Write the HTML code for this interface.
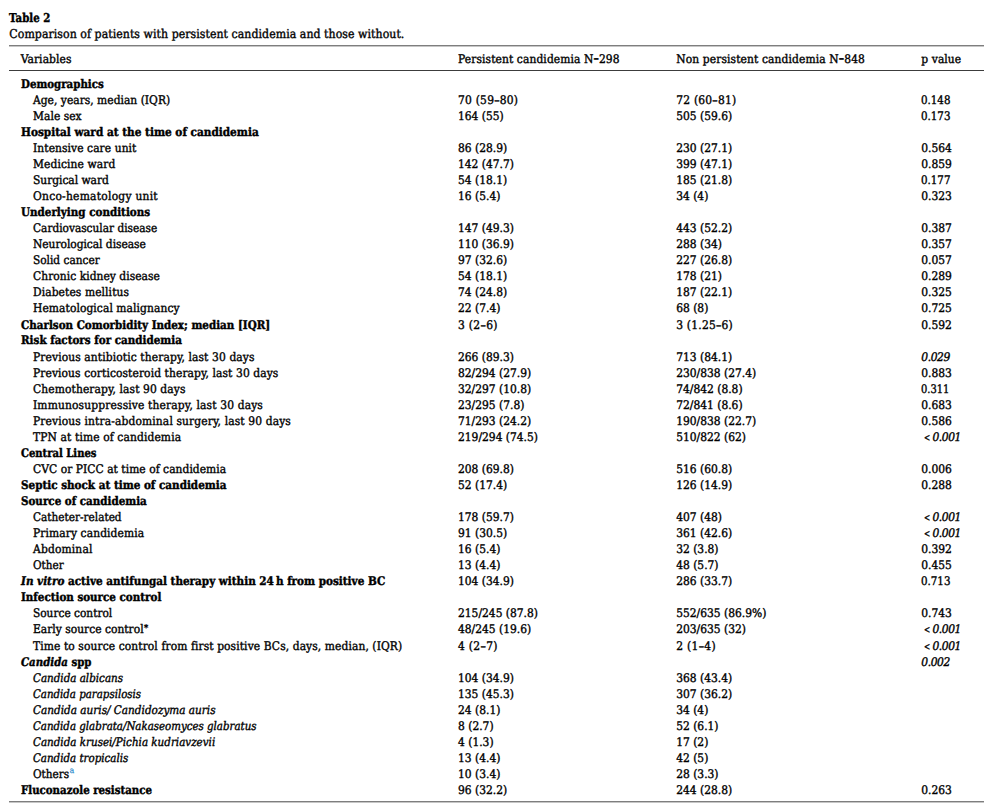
<!DOCTYPE html>
<html lang="en"><head><meta charset="utf-8"><title>Table 2</title>
<style>
html,body{margin:0;padding:0;background:#fff;}
body{width:991px;height:808px;position:relative;overflow:hidden;color:#000;
 font-family:"DejaVu Serif Condensed", "Liberation Serif", serif;font-size:11.9px;line-height:16px;
 -webkit-font-smoothing:auto;text-rendering:geometricPrecision;font-kerning:normal;}
.r{position:absolute;left:0;width:991px;height:16px;white-space:nowrap;}
.r span{position:absolute;top:0;transform-origin:0 0;white-space:nowrap;letter-spacing:0px;-webkit-text-stroke:0.36px #000;}
.r span.n{letter-spacing:0px;}
.b span.l{font-weight:bold;letter-spacing:0px;-webkit-text-stroke:0.4px #000;}
.i span.l{font-style:italic;letter-spacing:0px;}
.l1{left:20.7px}.l2{left:33px}
.c2{left:458px}.c3{left:676.2px}.c4{left:921.3px}
.r span.pi{font-style:italic;font-weight:normal;letter-spacing:-0.4px}
.r span.cap{font-size:12.2px;letter-spacing:0px}
.r span.capb{font-size:12.2px;font-weight:bold;letter-spacing:0px;-webkit-text-stroke:0.4px #000;}
sup{line-height:0;font-size:70%;vertical-align:baseline;position:relative;letter-spacing:0}
sup.fn{color:#2a8ccb;top:-0.56em;-webkit-text-stroke:0.25px #2a8ccb;margin-left:0.6px}
.d{position:relative;top:-1px;font-weight:bold}
sup.st{top:-0.2em;font-size:78%;margin-left:0.4px}
.lt{font-weight:normal;font-style:normal;display:inline-block;transform:scaleX(0.78);transform-origin:0 50%;margin-right:-1.8px;font-size:10.5px;position:relative;top:-0.2px;margin-left:2.9px;padding-right:2.1px;letter-spacing:0}
.rule{position:absolute;left:9px;width:975px;height:1px}
</style></head><body>
<div class="r" style="top:10px"><span class="capb" style="left:9.3px;transform:scaleX(0.9311);">Table 2</span></div>
<div class="r" style="top:26px"><span class="cap" style="left:9.3px;letter-spacing:0.051px;">Comparison of patients with persistent candidemia and those without.</span></div>
<div class="rule" style="top:45px;background:#7e7e7e"></div>
<div class="rule" style="top:46px;background:#c6c6c6"></div>
<div class="r" style="top:51px"><span class="l l1" style="letter-spacing:0.1px;">Variables</span><span class="c2" style="letter-spacing:0.104px;">Persistent candidemia N<b class="d">–</b>298</span><span class="c3" style="letter-spacing:0.118px;">Non persistent candidemia N<b class="d">–</b>848</span><span class="c4" style="letter-spacing:0.099px;">p value</span></div>
<div class="rule" style="top:70px;background:#3c3c3c"></div>
<div class="r b" style="top:76px"><span class="l l1" style="transform:scaleX(0.9567);">Demographics</span></div>
<div class="r" style="top:92px"><span class="l l2" style="letter-spacing:0.023px;">Age, years, median (IQR)</span><span class="n c2" style="letter-spacing:0.23px;">70 (59–80)</span><span class="n c3" style="letter-spacing:0.23px;">72 (60–81)</span><span class="n c4" style="transform:scaleX(0.9624);">0.148</span></div>
<div class="r" style="top:108px"><span class="l l2" style="letter-spacing:0.046px;">Male sex</span><span class="n c2">164 (55)</span><span class="n c3">505 (59.6)</span><span class="n c4" style="transform:scaleX(0.9624);">0.173</span></div>
<div class="r b" style="top:124px"><span class="l l1" style="transform:scaleX(0.9824);">Hospital ward at the time of candidemia</span></div>
<div class="r" style="top:140px"><span class="l l2" style="letter-spacing:0.077px;">Intensive care unit</span><span class="n c2">86 (28.9)</span><span class="n c3">230 (27.1)</span><span class="n c4">0.564</span></div>
<div class="r" style="top:156px"><span class="l l2" style="letter-spacing:0.102px;">Medicine ward</span><span class="n c2">142 (47.7)</span><span class="n c3">399 (47.1)</span><span class="n c4">0.859</span></div>
<div class="r" style="top:172px"><span class="l l2" style="letter-spacing:-0.037px;">Surgical ward</span><span class="n c2">54 (18.1)</span><span class="n c3">185 (21.8)</span><span class="n c4" style="transform:scaleX(0.9624);">0.177</span></div>
<div class="r" style="top:188px"><span class="l l2" style="letter-spacing:0.254px;">Onco-hematology unit</span><span class="n c2">16 (5.4)</span><span class="n c3">34 (4)</span><span class="n c4">0.323</span></div>
<div class="r b" style="top:204px"><span class="l l1" style="transform:scaleX(0.9687);">Underlying conditions</span></div>
<div class="r" style="top:220px"><span class="l l2" style="transform:scaleX(0.9877);">Cardiovascular disease</span><span class="n c2">147 (49.3)</span><span class="n c3">443 (52.2)</span><span class="n c4">0.387</span></div>
<div class="r" style="top:236px"><span class="l l2" style="letter-spacing:-0.046px;">Neurological disease</span><span class="n c2">110 (36.9)</span><span class="n c3">288 (34)</span><span class="n c4">0.357</span></div>
<div class="r" style="top:252px"><span class="l l2" style="transform:scaleX(0.9875);">Solid cancer</span><span class="n c2">97 (32.6)</span><span class="n c3">227 (26.8)</span><span class="n c4">0.057</span></div>
<div class="r" style="top:268px"><span class="l l2" style="letter-spacing:0.04px;">Chronic kidney disease</span><span class="n c2">54 (18.1)</span><span class="n c3">178 (21)</span><span class="n c4">0.289</span></div>
<div class="r" style="top:284px"><span class="l l2" style="letter-spacing:0.096px;">Diabetes mellitus</span><span class="n c2">74 (24.8)</span><span class="n c3">187 (22.1)</span><span class="n c4">0.325</span></div>
<div class="r" style="top:300px"><span class="l l2" style="letter-spacing:0.082px;">Hematological malignancy</span><span class="n c2">22 (7.4)</span><span class="n c3">68 (8)</span><span class="n c4">0.725</span></div>
<div class="r b" style="top:317px"><span class="l l1" style="transform:scaleX(0.9661);">Charlson Comorbidity Index; median [IQR]</span><span class="n c2" style="letter-spacing:0.329px;">3 (2–6)</span><span class="n c3" style="letter-spacing:0.23px;">3 (1.25–6)</span><span class="n c4">0.592</span></div>
<div class="r b" style="top:332px"><span class="l l1" style="transform:scaleX(0.9689);">Risk factors for candidemia</span></div>
<div class="r" style="top:349px"><span class="l l2" style="letter-spacing:0.113px;">Previous antibiotic therapy, last 30 days</span><span class="n c2">266 (89.3)</span><span class="n c3">713 (84.1)</span><span class="n c4 pi">0.029</span></div>
<div class="r" style="top:365px"><span class="l l2" style="letter-spacing:0.094px;">Previous corticosteroid therapy, last 30 days</span><span class="n c2">82/294 (27.9)</span><span class="n c3">230/838 (27.4)</span><span class="n c4">0.883</span></div>
<div class="r" style="top:381px"><span class="l l2" style="letter-spacing:0.103px;">Chemotherapy, last 90 days</span><span class="n c2">32/297 (10.8)</span><span class="n c3">74/842 (8.8)</span><span class="n c4" style="transform:scaleX(0.9249);">0.311</span></div>
<div class="r" style="top:397px"><span class="l l2" style="letter-spacing:0.147px;">Immunosuppressive therapy, last 30 days</span><span class="n c2">23/295 (7.8)</span><span class="n c3">72/841 (8.6)</span><span class="n c4">0.683</span></div>
<div class="r" style="top:413px"><span class="l l2" style="letter-spacing:0.131px;">Previous intra-abdominal surgery, last 90 days</span><span class="n c2">71/293 (24.2)</span><span class="n c3">190/838 (22.7)</span><span class="n c4">0.586</span></div>
<div class="r" style="top:429px"><span class="l l2" style="letter-spacing:0.12px;">TPN at time of candidemia</span><span class="n c2">219/294 (74.5)</span><span class="n c3">510/822 (62)</span><span class="n c4 pi"><b class="lt">&lt;</b>0.001</span></div>
<div class="r b" style="top:445px"><span class="l l1" style="transform:scaleX(0.9357);">Central Lines</span></div>
<div class="r" style="top:461px"><span class="l l2" style="letter-spacing:0.044px;">CVC or PICC at time of candidemia</span><span class="n c2">208 (69.8)</span><span class="n c3">516 (60.8)</span><span class="n c4">0.006</span></div>
<div class="r b" style="top:477px"><span class="l l1" style="transform:scaleX(0.9734);">Septic shock at time of candidemia</span><span class="n c2">52 (17.4)</span><span class="n c3">126 (14.9)</span><span class="n c4">0.288</span></div>
<div class="r b" style="top:493px"><span class="l l1" style="transform:scaleX(0.9666);">Source of candidemia</span></div>
<div class="r" style="top:509px"><span class="l l2" style="transform:scaleX(0.9829);">Catheter-related</span><span class="n c2">178 (59.7)</span><span class="n c3">407 (48)</span><span class="n c4 pi"><b class="lt">&lt;</b>0.001</span></div>
<div class="r" style="top:525px"><span class="l l2" style="letter-spacing:0.097px;">Primary candidemia</span><span class="n c2">91 (30.5)</span><span class="n c3">361 (42.6)</span><span class="n c4 pi"><b class="lt">&lt;</b>0.001</span></div>
<div class="r" style="top:541px"><span class="l l2" style="letter-spacing:0.155px;">Abdominal</span><span class="n c2">16 (5.4)</span><span class="n c3">32 (3.8)</span><span class="n c4">0.392</span></div>
<div class="r" style="top:557px"><span class="l l2" style="transform:scaleX(0.9775);">Other</span><span class="n c2">13 (4.4)</span><span class="n c3">48 (5.7)</span><span class="n c4">0.455</span></div>
<div class="r b" style="top:573px"><span class="l l1" style="transform:scaleX(0.9745);"><i>In vitro</i> active antifungal therapy within 24 h from positive BC</span><span class="n c2">104 (34.9)</span><span class="n c3">286 (33.7)</span><span class="n c4" style="transform:scaleX(0.9624);">0.713</span></div>
<div class="r b" style="top:589px"><span class="l l1" style="transform:scaleX(0.9665);">Infection source control</span></div>
<div class="r" style="top:605px"><span class="l l2" style="transform:scaleX(0.9888);">Source control</span><span class="n c2">215/245 (87.8)</span><span class="n c3">552/635 (86.9%)</span><span class="n c4">0.743</span></div>
<div class="r" style="top:621px"><span class="l l2" style="letter-spacing:0.011px;">Early source control<sup class=st>*</sup></span><span class="n c2">48/245 (19.6)</span><span class="n c3">203/635 (32)</span><span class="n c4 pi"><b class="lt">&lt;</b>0.001</span></div>
<div class="r" style="top:638px"><span class="l l2" style="letter-spacing:0.095px;">Time to source control from first positive BCs, days, median, (IQR)</span><span class="n c2" style="letter-spacing:0.329px;">4 (2–7)</span><span class="n c3" style="letter-spacing:0.329px;">2 (1–4)</span><span class="n c4 pi"><b class="lt">&lt;</b>0.001</span></div>
<div class="r b" style="top:654px"><span class="l l1" style="transform:scaleX(0.9529);"><i>Candida</i> spp</span><span class="n c4 pi">0.002</span></div>
<div class="r i" style="top:670px"><span class="l l2" style="transform:scaleX(0.9663);">Candida albicans</span><span class="n c2">104 (34.9)</span><span class="n c3">368 (43.4)</span></div>
<div class="r i" style="top:686px"><span class="l l2" style="transform:scaleX(0.9561);">Candida parapsilosis</span><span class="n c2">135 (45.3)</span><span class="n c3">307 (36.2)</span></div>
<div class="r i" style="top:702px"><span class="l l2" style="transform:scaleX(0.9785);">Candida auris/ Candidozyma auris</span><span class="n c2">24 (8.1)</span><span class="n c3">34 (4)</span></div>
<div class="r i" style="top:718px"><span class="l l2" style="transform:scaleX(0.9572);">Candida glabrata/Nakaseomyces glabratus</span><span class="n c2">8 (2.7)</span><span class="n c3">52 (6.1)</span></div>
<div class="r i" style="top:734px"><span class="l l2" style="transform:scaleX(0.9672);">Candida krusei/Pichia kudriavzevii</span><span class="n c2">4 (1.3)</span><span class="n c3">17 (2)</span></div>
<div class="r i" style="top:750px"><span class="l l2" style="transform:scaleX(0.9611);">Candida tropicalis</span><span class="n c2">13 (4.4)</span><span class="n c3">42 (5)</span></div>
<div class="r" style="top:766px"><span class="l l2" style="transform:scaleX(0.9817);">Others<sup class=fn>a</sup></span><span class="n c2">10 (3.4)</span><span class="n c3">28 (3.3)</span></div>
<div class="r b" style="top:782px"><span class="l l1" style="transform:scaleX(0.9547);">Fluconazole resistance</span><span class="n c2">96 (32.2)</span><span class="n c3">244 (28.8)</span><span class="n c4">0.263</span></div>
<div class="rule" style="top:801px;background:#7e7e7e"></div>
<div class="rule" style="top:802px;background:#c6c6c6"></div>
</body></html>
